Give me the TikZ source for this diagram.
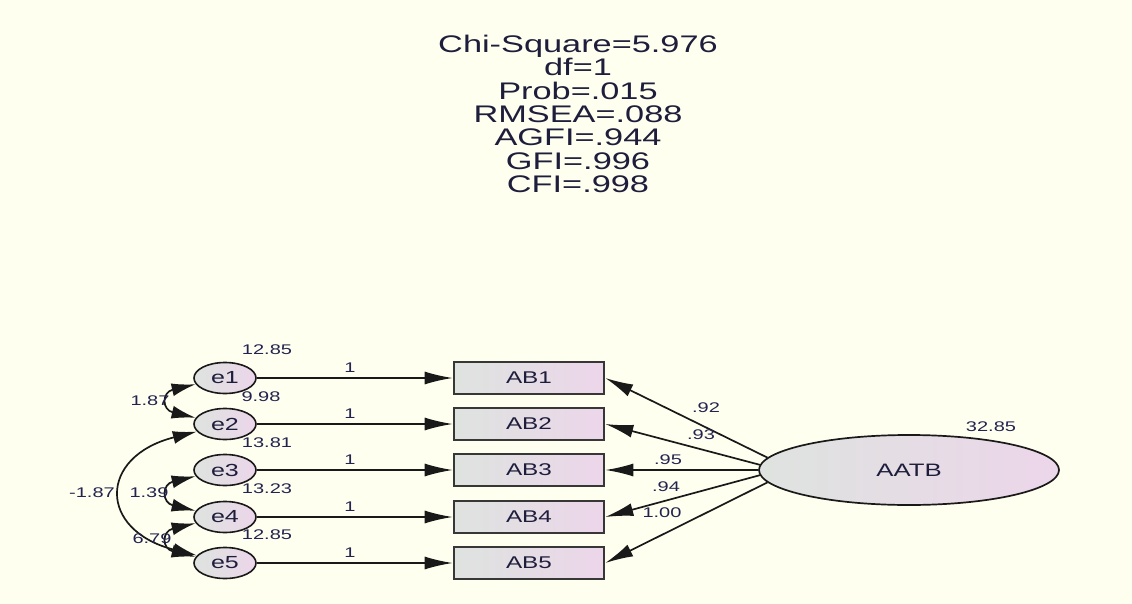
\documentclass[tikz,border=0pt]{standalone}
\usepackage{fontspec}
\setmainfont{Liberation Sans}
\newfontfamily\widesans[FakeStretch=1.43]{Liberation Sans}
\usetikzlibrary{arrows.meta,shapes.geometric}
\definecolor{bgc}{RGB}{255,255,240}
\definecolor{gL}{RGB}{222,227,223}
\definecolor{gR}{RGB}{236,214,234}
\definecolor{linec}{RGB}{25,25,25}
\definecolor{boxline}{RGB}{55,55,55}
\definecolor{txtc}{RGB}{30,30,60}
\definecolor{lblc}{RGB}{35,35,80}
\tikzset{
  errnode/.style={ellipse, draw=linec, line width=1.6pt, left color=gL, right color=gR,
    minimum width=62pt, minimum height=31pt, inner sep=0pt,
    font=\widesans\fontsize{17.5}{20}\selectfont, text=txtc},
  obsbox/.style={rectangle, draw=boxline, line width=2.6pt, left color=gL, right color=gR,
    minimum width=150pt, minimum height=32pt, inner sep=0pt,
    font=\widesans\fontsize{17}{20}\selectfont, text=txtc},
  latnode/.style={ellipse, draw=linec, line width=1.7pt, left color=gL, right color=gR,
    minimum width=300pt, minimum height=70pt, inner sep=0pt,
    font=\widesans\fontsize{18}{20}\selectfont, text=txtc},
  lbl/.style={font=\widesans\fontsize{14}{16}\selectfont, text=lblc, inner sep=0pt},
  regarrow/.style={draw=linec, line width=1.7pt, -{Latex[length=28pt,width=13pt]}},
  covarrow/.style={draw=linec, line width=1.7pt, {Latex[length=24pt,width=13pt]}-{Latex[length=24pt,width=13pt]}},
}
\begin{document}
\begin{tikzpicture}[x=1pt,y=-1pt]
\path[fill=bgc] (0,0) rectangle (1132,604);
\useasboundingbox (0,0) rectangle (1132,604);

% fit indices
\node[font=\widesans\fontsize{24}{23.3}\selectfont, text=txtc, align=center, anchor=north, inner sep=0pt] (fit) at (578,35)
 {Chi-Square=5.976\\df=1\\Prob=.015\\RMSEA=.088\\AGFI=.944\\GFI=.996\\CFI=.998};

% error terms
\node[errnode] (e1) at (225,378) {e1};
\node[errnode] (e2) at (225,424) {e2};
\node[errnode] (e3) at (225,470) {e3};
\node[errnode] (e4) at (225,517) {e4};
\node[errnode] (e5) at (225,563) {e5};

% observed
\node[obsbox] (ab1) at (529,378) {AB1};
\node[obsbox] (ab2) at (529,424) {AB2};
\node[obsbox] (ab3) at (529,470) {AB3};
\node[obsbox] (ab4) at (529,517) {AB4};
\node[obsbox] (ab5) at (529,563) {AB5};

% latent
\node[latnode] (aatb) at (909,470) {AATB};

% error paths
\draw[regarrow] (e1) -- (ab1);
\draw[regarrow] (e2) -- (ab2);
\draw[regarrow] (e3) -- (ab3);
\draw[regarrow] (e4) -- (ab4);
\draw[regarrow] (e5) -- (ab5);
\node[lbl] (w1) at (350,368) {1};
\node[lbl] (w2) at (350,414) {1};
\node[lbl] (w3) at (350,460) {1};
\node[lbl] (w4) at (350,507) {1};
\node[lbl] (w5) at (350,553) {1};

% loadings
\draw[regarrow] (aatb.175) -- (ab1.east);
\draw[regarrow] (aatb.178) -- (ab2.east);
\draw[regarrow] (aatb.180) -- (ab3.east);
\draw[regarrow] (aatb.182) -- (ab4.east);
\draw[regarrow] (aatb.185) -- (ab5.east);
\node[lbl] (l1) at (706,408) {.92};
\node[lbl] (l2) at (701,435) {.93};
\node[lbl] (l3) at (668,460) {.95};
\node[lbl] (l4) at (666,487) {.94};
\node[lbl] (l5) at (662,513) {1.00};

% covariances
\draw[covarrow] (e1.192) .. controls +(-34,8) and +(-34,-8) .. (e2.168);
\draw[covarrow] (e3.192) .. controls +(-34,8) and +(-34,-8) .. (e4.168);
\draw[covarrow] (e4.192) .. controls +(-34,8) and +(-34,-8) .. (e5.168);
\draw[covarrow] (e2.195) .. controls +(-99,25) and +(-99,-25) .. (e5.165);
\node[lbl] (c12) at (150,401) {1.87};
\node[lbl] (c34) at (149,493) {1.39};
\node[lbl] (c25) at (92,493) {-1.87};
\node[lbl] (c45) at (152,539) {6.79};

% variances
\node[lbl] (v1) at (267,350) {12.85};
\node[lbl] (v2) at (261,397) {9.98};
\node[lbl] (v3) at (267,443) {13.81};
\node[lbl] (v4) at (267,489) {13.23};
\node[lbl] (v5) at (267,535) {12.85};
\node[lbl] (v6) at (991,427) {32.85};
\end{tikzpicture}
\end{document}
